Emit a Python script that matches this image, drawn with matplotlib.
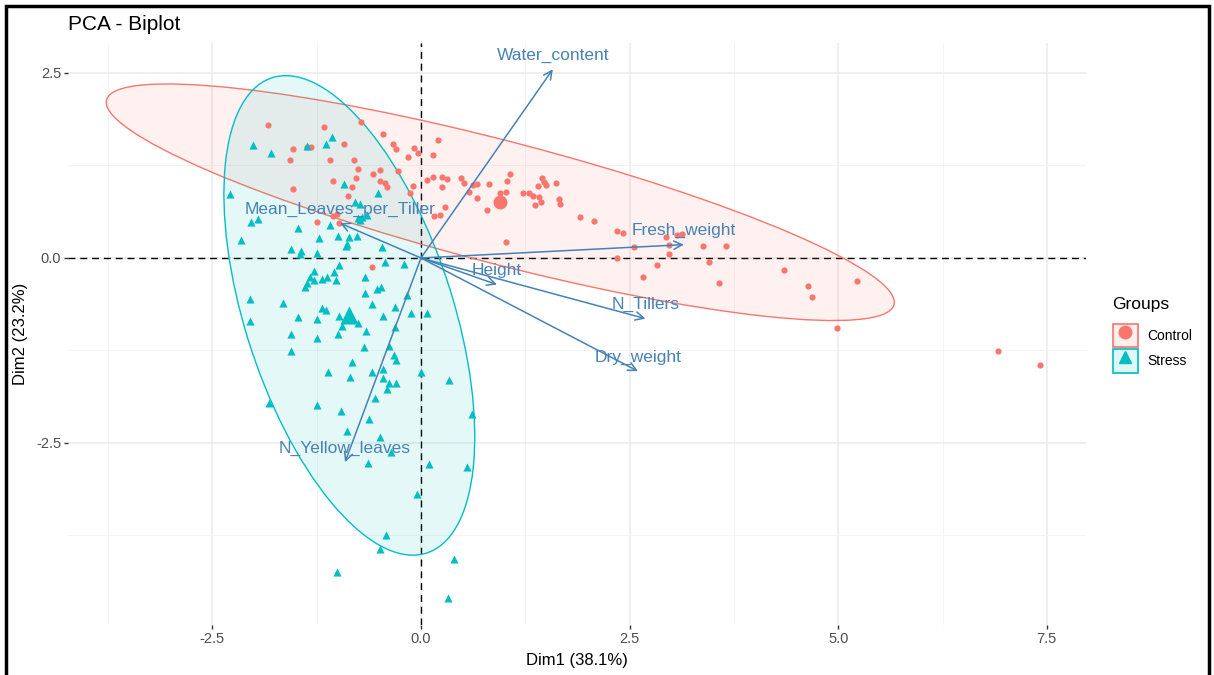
#import módulos
import numpy as np
import matplotlib.pyplot as plt
from matplotlib.patches import Ellipse, Patch, Rectangle
from matplotlib.lines import Line2D

plt.rcParams["font.family"] = ["Liberation Sans", "DejaVu Sans"]

#datos
"""individuos del grupo Control (Dim1, Dim2)"""
ctrl_x = [-1.83, -1.16, -0.72, -0.46, -0.34, -0.30, -0.08, -0.04, 0.20, -0.16,
          0.14, -0.92, -1.53, -1.37, -1.32, -1.57, -1.09, -0.80, -0.76, -0.58,
          -0.49, -0.28, -0.78, -1.06, -0.49, -0.43, -0.41, -0.83, -1.53, -0.10,
          -0.13, -0.88, 0.07, 0.14, 0.25, 0.31, 0.25, 0.48, 0.52, 0.58,
          0.62, 0.67, 0.82, 0.67, 0.79, 0.29, 0.16, 0.23, 1.07, 1.03,
          0.95, 1.02, 1.22, 1.29, 1.34, 1.37, 1.41, 1.44, 1.40, 1.45,
          1.47, 1.50, 1.62, 1.65, 1.67, 1.91, 2.07, 2.35, 2.42, 1.02,
          -1.06, -1.01, -1.25, -0.98, -0.59, 2.94, 3.07, 3.13, 2.55, 2.97,
          2.35, 2.97, 2.83, 2.66, 3.38, 3.66, 3.45, 3.57, 4.35, 4.64,
          4.69, 5.23, 4.99, 6.91, 7.42]
ctrl_y = [1.80, 1.77, 1.84, 1.68, 1.54, 1.47, 1.49, 1.42, 1.59, 1.36,
          1.39, 1.54, 1.47, 1.50, 1.50, 1.32, 1.32, 1.32, 1.20, 1.14,
          1.19, 1.18, 1.08, 1.04, 1.04, 1.01, 0.96, 0.96, 0.93, 0.97,
          0.88, 0.84, 1.05, 1.09, 1.09, 1.07, 0.96, 1.08, 1.01, 0.89,
          0.99, 1.00, 1.00, 0.81, 0.65, 0.69, 0.57, 0.58, 1.14, 1.04,
          0.88, 0.89, 0.88, 0.88, 0.84, 0.72, 0.82, 0.76, 0.97, 1.08,
          1.03, 0.99, 1.01, 0.80, 0.73, 0.55, 0.50, 0.36, 0.34, 0.22,
          0.57, 0.59, 0.49, 0.47, -0.12, 0.28, 0.31, 0.32, 0.15, 0.18,
          0.00, 0.05, -0.09, -0.26, 0.16, 0.16, -0.05, -0.34, -0.16, -0.38,
          -0.53, -0.31, -0.95, -1.26, -1.45]

"""individuos del grupo Stress (Dim1, Dim2)"""
str_x = [-2.29, -2.04, -1.95, -2.16, -1.47, -1.22, -1.56, -1.44, -1.45, -1.24,
         -1.00, -1.09, -0.86, -0.77, -0.90, -0.89, -0.47, -0.52, -0.92, -0.79,
         -0.73, -0.76, -0.71, -0.65, -0.73, -0.98, -0.43, -0.20, -1.28, -1.33,
         -1.28, -1.37, -1.39, -1.19, -1.13, -1.04, -1.02, -0.67, -0.53, -0.48,
         -0.67, -0.17, -2.05, -1.65, -1.19, -1.14, -0.59, -0.31, -1.47, -1.25,
         -0.98, -0.46, -0.12, 0.07, -2.05, -0.76, -0.95, -0.66, -0.31, -1.56,
         -1.00, -1.24, -0.68, -0.38, -1.56, -0.32, -0.30, -0.83, -1.12, -0.59,
         -0.46, -0.46, -0.85, -0.38, -0.30, -0.41, 0.00, 0.34, -0.55, -1.82,
         -1.24, -0.96, 0.61, -0.62, -0.89, -0.49, -0.36, -0.64, 0.10, 0.55,
         -0.05, -0.42, -0.49, 0.40, -1.01, 0.32, -2.01, -1.80, -1.37, -1.14,
         -1.07]
str_y = [0.86, 0.49, 0.53, 0.24, 0.41, 0.27, 0.12, 0.09, 0.05, 0.07,
         0.30, 0.45, 0.28, 0.30, 0.16, 0.19, 0.15, 0.88, 1.00, 0.76,
         0.73, 0.54, 0.55, 0.58, 0.51, -0.09, -0.05, -0.08, -0.18, -0.26,
         -0.30, -0.34, -0.39, -0.28, -0.26, -0.19, -0.30, -0.26, -0.42, -0.39,
         -0.47, -0.50, -0.55, -0.61, -0.68, -0.70, -0.62, -0.66, -0.80, -0.82,
         -0.78, -0.78, -0.74, -0.74, -0.85, -0.88, -0.92, -0.99, -0.93, -1.03,
         -1.03, -1.08, -1.20, -1.19, -1.26, -1.31, -1.38, -1.41, -1.54, -1.54,
         -1.50, -1.62, -1.61, -1.69, -1.69, -1.77, -1.54, -1.65, -1.89, -1.96,
         -1.99, -2.07, -2.11, -2.18, -2.34, -2.42, -2.62, -2.77, -2.78, -2.82,
         -3.19, -3.74, -3.93, -4.07, -4.24, -4.59, 1.53, 1.42, 1.51, 1.54,
         1.64]

"""variables (flechas)"""
var_names = ["Water_content", "Fresh_weight", "Height", "N_Tillers",
             "Dry_weight", "Mean_Leaves_per_Tiller", "N_Yellow_leaves"]
var_x = [1.58, 3.15, 0.91, 2.69, 2.60, -0.97, -0.91]
var_y = [2.55, 0.18, -0.36, -0.82, -1.53, 0.47, -2.76]

groups = ["Control", "Stress"]
colors = ["#F8766D", "#00BFC4"]
markers = ["o", "^"]
sizes = [20, 34]
data = [(np.array(ctrl_x), np.array(ctrl_y)), (np.array(str_x), np.array(str_y))]


def elipse(x, y, level=0.95):
    # elipse normal como stat_ellipse de ggplot
    n = len(x)
    d = n - 1
    fq = d / 2 * ((1 - level) ** (-2 / d) - 1)
    r = np.sqrt(2 * fq)
    cov = np.cov(x, y)
    vals, vecs = np.linalg.eigh(cov)
    ang = np.degrees(np.arctan2(vecs[1, 1], vecs[0, 1]))
    return (x.mean(), y.mean()), 2 * r * np.sqrt(vals[1]), 2 * r * np.sqrt(vals[0]), ang


#grafico
fig = plt.figure(figsize=(12.14, 6.75), dpi=100)
ax = fig.add_axes([0.056, 0.0741, 0.8386, 0.8622])

ax.set_xlim(-4.23, 7.97)
ax.set_ylim(-4.96, 2.905)

ax.set_xticks([-2.5, 0, 2.5, 5.0, 7.5])
ax.set_yticks([-2.5, 0, 2.5])
ax.set_xticks(np.arange(-3.75, 8, 2.5), minor=True)
ax.set_yticks([-3.75, -1.25, 1.25], minor=True)
ax.set_xticklabels(["-2.5", "0.0", "2.5", "5.0", "7.5"])
ax.set_yticklabels(["-2.5", "0.0", "2.5"])
ax.grid(which="major", color="#EBEBEB", lw=1.1)
ax.grid(which="minor", color="#F2F2F2", lw=0.6)
ax.set_axisbelow(True)
for s in ax.spines.values():
    s.set_visible(False)
ax.tick_params(which="major", length=3, width=1, color="#333333",
               labelsize=10.5, labelcolor="#4D4D4D", pad=2)
ax.tick_params(which="minor", length=0)

ax.axhline(0, color="black", ls="--", lw=1, dashes=(5, 3.5), zorder=1)
ax.axvline(0, color="black", ls="--", lw=1, dashes=(5, 3.5), zorder=1)

for (x, y), col in zip(data, colors):
    c, w, h, a = elipse(x, y)
    ax.add_patch(Ellipse(c, w, h, angle=a, facecolor=col, alpha=0.1, lw=0, zorder=2))
    ax.add_patch(Ellipse(c, w, h, angle=a, facecolor="none", edgecolor=col, lw=1, zorder=2))

for (x, y), col, m, s in zip(data, colors, markers, sizes):
    ax.scatter(x, y, c=col, marker=m, s=s, lw=0, zorder=3)
    ax.scatter(x.mean(), y.mean(), c=col, marker=m, s=s * 5, lw=0, zorder=3)

for name, vx, vy in zip(var_names, var_x, var_y):
    ax.annotate("", xy=(vx, vy), xytext=(0, 0),
                arrowprops=dict(arrowstyle="->,head_length=0.6,head_width=0.3",
                                color="#4682B4", lw=1.1, shrinkA=0, shrinkB=0),
                zorder=4)
    ax.annotate(name, xy=(vx, vy), xytext=(0, 10), textcoords="offset points",
                ha="center", va="center", color="#4682B4", fontsize=12.5, zorder=5)

ax.set_xlabel("Dim1 (38.1%)", fontsize=12, labelpad=5)
ax.set_ylabel("Dim2 (23.2%)", fontsize=12, labelpad=6)
fig.text(68 / 1214, 1 - 24 / 675, "PCA - Biplot", fontsize=15, va="center", ha="left")

handles = [(Patch(facecolor=col, alpha=0.12, edgecolor=col),
            Patch(facecolor="none", edgecolor=col, lw=1.2),
            Line2D([], [], marker=m, color=col, ls="", markersize=9))
           for col, m in zip(colors, markers)]
leg = fig.legend(handles, groups, title="Groups", loc="upper left",
                 bbox_to_anchor=(1100 / 1214, 1 - 284 / 675), frameon=False,
                 fontsize=10, title_fontsize=12.5, handlelength=1.8, handleheight=2.2,
                 alignment="left", labelspacing=0.15, handletextpad=0.7)
# mas espacio entre titulo y claves
leg._legend_box.sep = 9

# marco exterior
fig.patches.append(Rectangle((6 / 1214, -0.05), 1203 / 1214, 1.05 - 6 / 675,
                             transform=fig.transFigure, fill=False,
                             edgecolor="black", lw=2.5))

plt.savefig("out.png", dpi=100)
